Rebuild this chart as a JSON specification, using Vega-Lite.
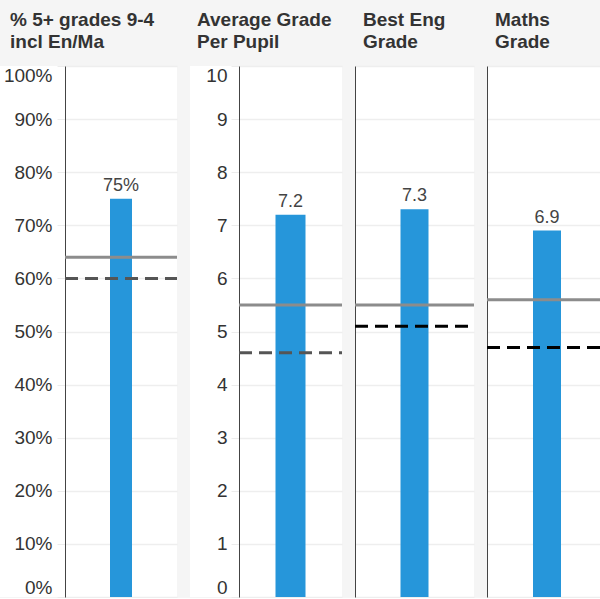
{
  "$schema": "https://vega.github.io/schema/vega-lite/v6.json",
  "background": "#f5f5f5",
  "padding": {"top": 10, "left": 0, "right": 0, "bottom": 0},
  "config": {
    "view": {"fill": "white", "stroke": null},
    "font": "Liberation Sans",
    "scale": {"continuousPadding": 0},
    "title": {"fontSize": 19, "fontWeight": "bold", "color": "#333333", "anchor": "start", "frame": "group", "lineHeight": 22, "offset": 14},
    "axis": {"labelFont": "Liberation Sans", "labelFontSize": 19, "labelColor": "#333333", "domainColor": "#444444", "domainWidth": 1, "tickColor": "#ececec", "tickSize": 8, "labelPadding": 4, "gridColor": "#eeeeee", "gridWidth": 1.5, "title": null, "labelFlush": true}
  },
  "datasets": {
    "results": [
      {"measure": "pct", "school": 0.75, "national": 0.64, "target": 0.60},
      {"measure": "avg", "school": 7.2, "national": 5.5, "target": 4.6},
      {"measure": "eng", "school": 7.3, "national": 5.5, "target": 5.1},
      {"measure": "maths", "school": 6.9, "national": 5.6, "target": 4.7}
    ]
  },
  "data": {"name": "results"},
  "spacing": 13,
  "bounds": "flush",
  "hconcat": [
    {
      "width": 177, "height": 531,
      "title": {"text": ["% 5+ grades 9-4", "incl En/Ma"], "dx": 10},
      "transform": [{"filter": "datum.measure == 'pct'"}],
      "layer": [
        {
          "mark": {"type": "bar", "size": 22, "color": "#2696da", "orient": "vertical"},
          "encoding": {
            "x": {"datum": 0.5, "type": "quantitative", "scale": {"domain": [0, 1], "range": [65, 177], "padding": 0}, "axis": null},
            "y": {"field": "school", "type": "quantitative", "scale": {"domain": [0, 1], "nice": false},
                  "axis": {"format": ".0%", "values": [0, 0.1, 0.2, 0.3, 0.4, 0.5, 0.6, 0.7, 0.8, 0.9, 1], "offset": -65, "labelPadding": 5, "grid": true}}
          }
        },
        {
          "mark": {"type": "text", "fontSize": 18, "color": "#444444", "baseline": "alphabetic", "dy": -8},
          "encoding": {
            "x": {"datum": 0.5, "type": "quantitative"},
            "y": {"field": "school", "type": "quantitative"},
            "text": {"field": "school", "type": "quantitative", "format": ".0%"}
          }
        },
        {
          "mark": {"type": "rule", "color": "#8c8c8c", "strokeWidth": 3},
          "encoding": {
            "x": {"datum": 0, "type": "quantitative"}, "x2": {"datum": 1},
            "y": {"field": "national", "type": "quantitative"}
          }
        },
        {
          "mark": {"type": "rule", "color": "#555555", "strokeWidth": 3, "strokeDash": [13, 7]},
          "encoding": {
            "x": {"datum": 0, "type": "quantitative"}, "x2": {"datum": 1},
            "y": {"field": "target", "type": "quantitative"}
          }
        }
      ]
    },
    {
      "width": 152, "height": 531,
      "title": {"text": ["Average Grade", "Per Pupil"], "dx": 7},
      "transform": [{"filter": "datum.measure == 'avg'"}],
      "layer": [
        {
          "mark": {"type": "bar", "size": 30, "color": "#2696da", "orient": "vertical"},
          "encoding": {
            "x": {"datum": 0.5, "type": "quantitative", "scale": {"domain": [0, 1], "range": [49, 152], "padding": 0}, "axis": null},
            "y": {"field": "school", "type": "quantitative", "scale": {"domain": [0, 10], "nice": false},
                  "axis": {"values": [0, 1, 2, 3, 4, 5, 6, 7, 8, 9, 10], "offset": -49, "grid": true}}
          }
        },
        {
          "mark": {"type": "text", "fontSize": 18, "color": "#444444", "baseline": "alphabetic", "dy": -8},
          "encoding": {
            "x": {"datum": 0.5, "type": "quantitative"},
            "y": {"field": "school", "type": "quantitative"},
            "text": {"field": "school", "type": "quantitative", "format": ".1f"}
          }
        },
        {
          "mark": {"type": "rule", "color": "#8c8c8c", "strokeWidth": 3},
          "encoding": {
            "x": {"datum": 0, "type": "quantitative"}, "x2": {"datum": 1},
            "y": {"field": "national", "type": "quantitative"}
          }
        },
        {
          "mark": {"type": "rule", "color": "#555555", "strokeWidth": 3, "strokeDash": [13, 7]},
          "encoding": {
            "x": {"datum": 0, "type": "quantitative"}, "x2": {"datum": 1},
            "y": {"field": "target", "type": "quantitative"}
          }
        }
      ]
    },
    {
      "width": 119, "height": 531,
      "title": {"text": ["Best Eng", "Grade"], "dx": 8},
      "transform": [{"filter": "datum.measure == 'eng'"}],
      "layer": [
        {
          "mark": {"type": "bar", "size": 28, "color": "#2696da", "orient": "vertical"},
          "encoding": {
            "x": {"datum": 0.5, "type": "quantitative", "scale": {"domain": [0, 1], "range": [0, 119], "padding": 0}, "axis": null},
            "y": {"field": "school", "type": "quantitative", "scale": {"domain": [0, 10], "nice": false},
                  "axis": {"values": [0, 1, 2, 3, 4, 5, 6, 7, 8, 9, 10], "labels": false, "ticks": false, "grid": true}}
          }
        },
        {
          "mark": {"type": "text", "fontSize": 18, "color": "#444444", "baseline": "alphabetic", "dy": -8},
          "encoding": {
            "x": {"datum": 0.5, "type": "quantitative"},
            "y": {"field": "school", "type": "quantitative"},
            "text": {"field": "school", "type": "quantitative", "format": ".1f"}
          }
        },
        {
          "mark": {"type": "rule", "color": "#8c8c8c", "strokeWidth": 3},
          "encoding": {
            "x": {"datum": 0, "type": "quantitative"}, "x2": {"datum": 1},
            "y": {"field": "national", "type": "quantitative"}
          }
        },
        {
          "mark": {"type": "rule", "color": "#000000", "strokeWidth": 3, "strokeDash": [13, 7]},
          "encoding": {
            "x": {"datum": 0, "type": "quantitative"}, "x2": {"datum": 1},
            "y": {"field": "target", "type": "quantitative"}
          }
        }
      ]
    },
    {
      "width": 113, "height": 531,
      "title": {"text": ["Maths", "Grade"], "dx": 8},
      "transform": [{"filter": "datum.measure == 'maths'"}],
      "layer": [
        {
          "mark": {"type": "bar", "size": 28, "color": "#2696da", "orient": "vertical"},
          "encoding": {
            "x": {"datum": 0.5, "type": "quantitative", "scale": {"domain": [0, 1], "range": [0, 120], "padding": 0}, "axis": null},
            "y": {"field": "school", "type": "quantitative", "scale": {"domain": [0, 10], "nice": false},
                  "axis": {"values": [0, 1, 2, 3, 4, 5, 6, 7, 8, 9, 10], "labels": false, "ticks": false, "grid": true}}
          }
        },
        {
          "mark": {"type": "text", "fontSize": 18, "color": "#444444", "baseline": "alphabetic", "dy": -8},
          "encoding": {
            "x": {"datum": 0.5, "type": "quantitative"},
            "y": {"field": "school", "type": "quantitative"},
            "text": {"field": "school", "type": "quantitative", "format": ".1f"}
          }
        },
        {
          "mark": {"type": "rule", "color": "#8c8c8c", "strokeWidth": 3, "clip": true},
          "encoding": {
            "x": {"datum": 0, "type": "quantitative"}, "x2": {"datum": 1},
            "y": {"field": "national", "type": "quantitative"}
          }
        },
        {
          "mark": {"type": "rule", "color": "#000000", "strokeWidth": 3, "strokeDash": [13, 7], "clip": true},
          "encoding": {
            "x": {"datum": 0, "type": "quantitative"}, "x2": {"datum": 1},
            "y": {"field": "target", "type": "quantitative"}
          }
        }
      ]
    }
  ]
}
